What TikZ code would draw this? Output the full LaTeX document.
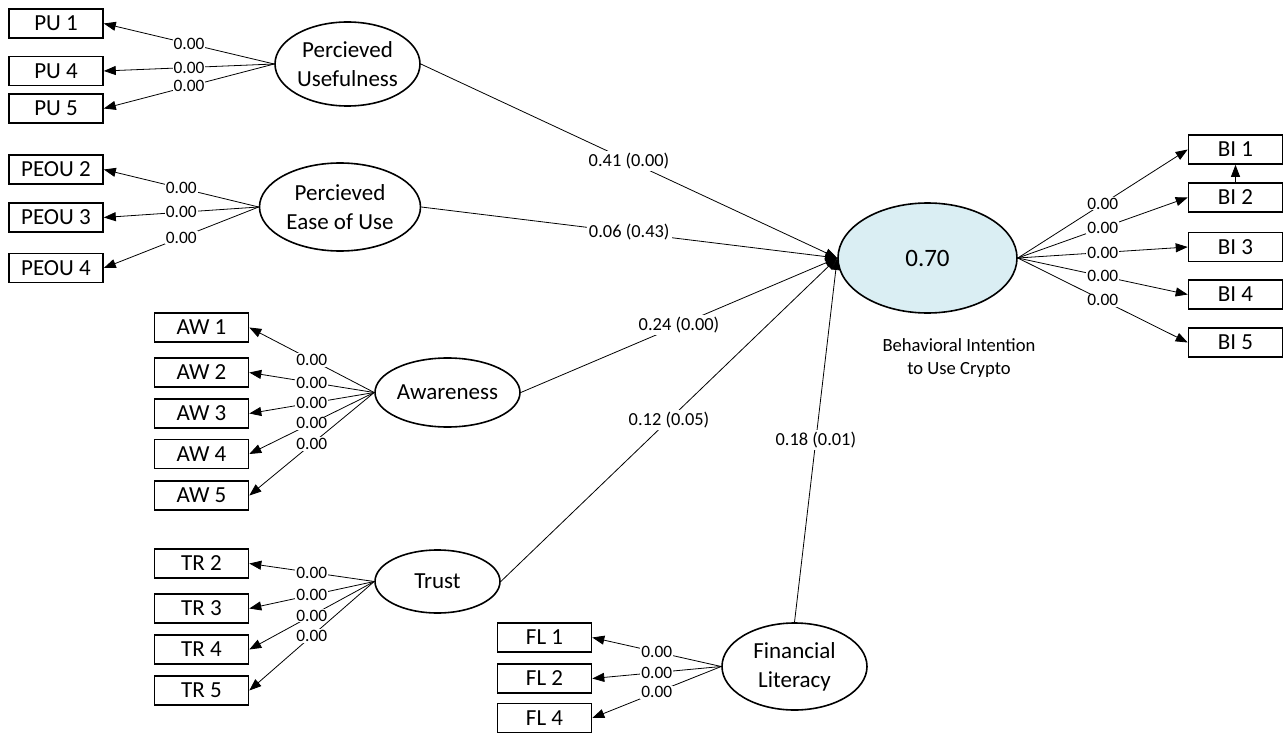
\documentclass[tikz,border=0pt]{standalone}
\usepackage{fontspec}
\setmainfont{Carlito}
\usetikzlibrary{shapes.geometric,arrows.meta}
\definecolor{bifill}{HTML}{DAEEF3}

\begin{document}
\begin{tikzpicture}[x=0.5pt, y=-0.5pt,
        ind/.style={draw, line width=0.8pt, minimum width=47pt, minimum height=14.5pt, inner sep=0pt, font=\fontsize{11.5}{13}\selectfont},
        lat/.style={draw, ellipse, line width=0.8pt, inner sep=0pt, align=center, font=\fontsize{11.5}{14.5}\selectfont},
        arr/.style={-{Triangle[length=6pt,width=4.5pt]}, line width=0.4pt},
        ld/.style={fill=white, inner sep=0.5pt, font=\fontsize{8.7}{10}\selectfont},
        pc/.style={fill=white, inner sep=1pt, font=\fontsize{9.2}{11}\selectfont}]
        \useasboundingbox (0, 0) rectangle (1285, 733);

        % latent variables
        \node [lat, minimum width=72.5pt, minimum height=42pt] (PU) at (347.5, 64) {Percieved\\Usefulness};
        \node [lat, minimum width=80.5pt, minimum height=44pt] (PEOU) at (340, 207) {Percieved\\Ease of Use};
        \node [lat, minimum width=72.5pt, minimum height=34.5pt] (AW) at (447.5, 392.5) {Awareness};
        \node [lat, minimum width=62.5pt, minimum height=31.5pt] (TR) at (437.5, 581.5) {Trust};
        \node [lat, minimum width=72.5pt, minimum height=43.5pt] (FL) at (794.5, 666.5) {Financial\\Literacy};
        \node [lat, fill=bifill, minimum width=89.5pt, minimum height=55pt, font=\fontsize{12.5}{14}\selectfont] (BI) at (927.5, 258) {0.70};
        \node [align=center, inner sep=0pt, font=\fontsize{9.3}{11.5}\selectfont] (BIname) at (959, 358) {Behavioral Intention\\to Use Crypto};

        % indicators
        \node [ind] (PU1) at (56, 23.5) {PU 1};
        \node [ind] (PU4) at (56, 71) {PU 4};
        \node [ind] (PU5) at (56, 108.5) {PU 5};
        \node [ind] (PEOU2) at (56, 169.5) {PEOU 2};
        \node [ind] (PEOU3) at (56, 217.5) {PEOU 3};
        \node [ind] (PEOU4) at (56, 268) {PEOU 4};
        \node [ind] (AW1) at (201.5, 327.5) {AW 1};
        \node [ind] (AW2) at (201.5, 372.5) {AW 2};
        \node [ind] (AW3) at (201.5, 413.5) {AW 3};
        \node [ind] (AW4) at (201.5, 454) {AW 4};
        \node [ind] (AW5) at (201.5, 495.5) {AW 5};
        \node [ind] (TR2) at (201.5, 563.5) {TR 2};
        \node [ind] (TR3) at (201.5, 608.5) {TR 3};
        \node [ind] (TR4) at (201.5, 649.5) {TR 4};
        \node [ind] (TR5) at (201.5, 690.5) {TR 5};
        \node [ind] (FL1) at (544.5, 637.5) {FL 1};
        \node [ind] (FL2) at (544.5, 678.5) {FL 2};
        \node [ind] (FL4) at (544.5, 718) {FL 4};
        \node [ind] (BI1) at (1235.5, 149.5) {BI 1};
        \node [ind] (BI2) at (1235.5, 197.5) {BI 2};
        \node [ind] (BI3) at (1235.5, 247) {BI 3};
        \node [ind] (BI4) at (1235.5, 294.5) {BI 4};
        \node [ind] (BI5) at (1235.5, 342.5) {BI 5};

        % loadings
        \draw [arr] (PU.west) -- node [ld] {0.00} (PU1.east);
        \draw [arr] (PU.west) -- node [ld] {0.00} (PU4.east);
        \draw [arr] (PU.west) -- node [ld] {0.00} (PU5.east);
        \draw [arr] (PEOU.west) -- node [ld] {0.00} (PEOU2.east);
        \draw [arr] (PEOU.west) -- node [ld] {0.00} (PEOU3.east);
        \draw [arr] (PEOU.west) -- node [ld] {0.00} (PEOU4.east);
        \draw [arr] (AW.west) -- node [ld] {0.00} (AW1.east);
        \draw [arr] (AW.west) -- node [ld] {0.00} (AW2.east);
        \draw [arr] (AW.west) -- node [ld] {0.00} (AW3.east);
        \draw [arr] (AW.west) -- node [ld] {0.00} (AW4.east);
        \draw [arr] (AW.west) -- node [ld] {0.00} (AW5.east);
        \draw [arr] (TR.west) -- node [ld] {0.00} (TR2.east);
        \draw [arr] (TR.west) -- node [ld] {0.00} (TR3.east);
        \draw [arr] (TR.west) -- node [ld] {0.00} (TR4.east);
        \draw [arr] (TR.west) -- node [ld] {0.00} (TR5.east);
        \draw [arr] (FL.west) -- node [ld] {0.00} (FL1.east);
        \draw [arr] (FL.west) -- node [ld] {0.00} (FL2.east);
        \draw [arr] (FL.west) -- node [ld] {0.00} (FL4.east);
        \draw [arr] (BI.east) -- node [ld] {0.00} (BI1.west);
        \draw [arr] (BI.east) -- node [ld] {0.00} (BI2.west);
        \draw [arr] (BI.east) -- node [ld] {0.00} (BI3.west);
        \draw [arr] (BI.east) -- node [ld] {0.00} (BI4.west);
        \draw [arr] (BI.east) -- node [ld] {0.00} (BI5.west);
        \draw [arr] (BI2.north) -- (BI1.south);

        % paths
        \draw [arr] (PU.east) -- node [pc] {0.41 (0.00)} (BI.west);
        \draw [arr] (PEOU.east) -- node [pc] {0.06 (0.43)} (BI.west);
        \draw [arr] (AW.east) -- node [pc] {0.24 (0.00)} (BI.west);
        \draw [arr] (TR.east) -- node [pc] {0.12 (0.05)} (BI.west);
        \draw [arr] (FL.north) -- node [pc] {0.18 (0.01)} (BI.west);
\end{tikzpicture}
\end{document}
